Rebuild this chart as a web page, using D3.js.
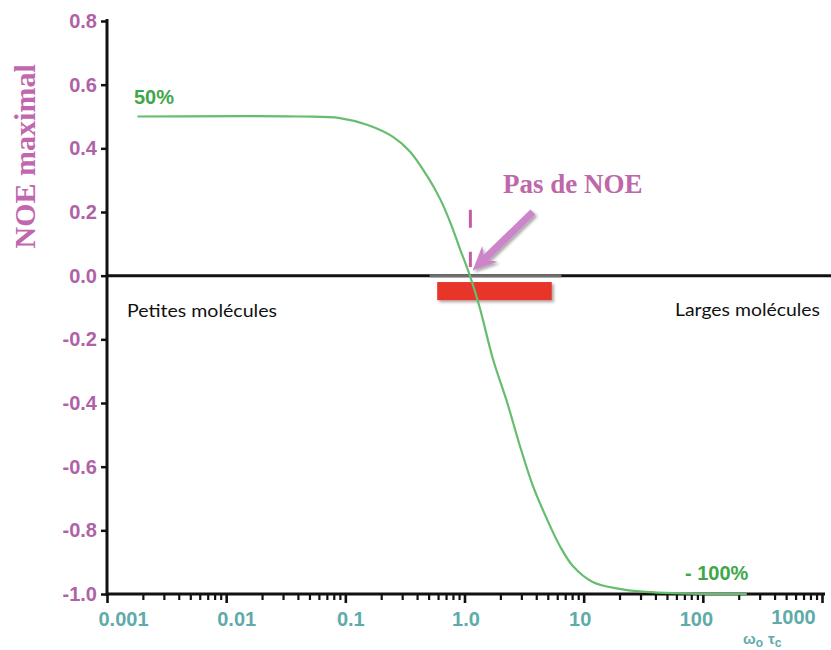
<!DOCTYPE html>
<html>
<head>
<meta charset="utf-8">
<script src="https://cdn.jsdelivr.net/npm/d3@7"></script>
<style>
  html, body { margin: 0; padding: 0; background: #ffffff; }
  svg { display: block; }
</style>
</head>
<body>
<div id="chart"></div>
<script>
// ---------- data ----------
const xTickValues = [0.001, 0.01, 0.1, 1, 10, 100, 1000];
const xTickLabels = ["0.001", "0.01", "0.1", "1.0", "10", "100", "1000"];
const yTickValues = [-1.0, -0.8, -0.6, -0.4, -0.2, 0.0, 0.2, 0.4, 0.6, 0.8];
const yTickLabels = ["-1.0", "-0.8", "-0.6", "-0.4", "-0.2", "0.0", "0.2", "0.4", "0.6", "0.8"];
// omega0 * tau_c values and maximal NOE
const curveX = [0.0018, 0.0416, 0.090, 0.152, 0.251, 0.348, 0.484, 0.622, 0.755, 0.914, 1.11, 1.35, 1.73, 2.27, 2.92, 3.75, 4.91, 6.31, 8.11, 11.9, 20.1, 29.6, 94, 234];
const curveY = [0.5, 0.5, 0.495, 0.474, 0.436, 0.390, 0.314, 0.242, 0.170, 0.085, 0.0, -0.104, -0.261, -0.396, -0.535, -0.660, -0.764, -0.849, -0.912, -0.962, -0.984, -0.992, -1.0, -1.0];
const plateauLabels = ["50%", "- 100%"];
const regionLabels = ["Petites molécules", "Larges molécules"];
const noNoeBand = [0.59, 5.4];     // omega0*tau_c range of the red band
const noNoePoint = 1.12;           // zero crossing
const yTitle = "NOE maximal";
const annotation = "Pas de NOE";

// ---------- layout ----------
const W = 831, H = 650;
const purple = "#b062a6", teal = "#5eabaa", green = "#3fa74a", curveGreen = "#66bd6d";

const svg = d3.select("#chart").append("svg").attr("width", W).attr("height", H);
const defs = svg.append("defs");
const f = defs.append("filter").attr("id", "shadow").attr("x", "-20%").attr("y", "-40%").attr("width", "150%").attr("height", "200%");
f.append("feDropShadow").attr("dx", 2).attr("dy", 2).attr("stdDeviation", 1.6).attr("flood-color", "#000").attr("flood-opacity", 0.35);

const x = d3.scaleLog().domain([0.001, 1000]).range([107, 822]);
const y = d3.scaleLinear().domain([-1, 0.8]).range([594, 21]);

// ---------- x axis ----------
const minorTicks = [];
for (let e = -3; e < 3; e++) for (let k = 2; k <= 9; k++) minorTicks.push(k * Math.pow(10, e));

const gx = svg.append("g").attr("transform", `translate(0,${y(-1)})`);
gx.call(d3.axisBottom(x).tickValues(minorTicks).tickSize(6).tickFormat("").tickSizeOuter(0));
gx.call(g => g.selectAll(".tick line").attr("stroke", "#111").attr("stroke-width", 2.2));
const gx2 = svg.append("g").attr("transform", `translate(0,${y(-1)})`);
gx2.call(d3.axisBottom(x).tickValues(xTickValues).tickSize(9).tickPadding(9)
  .tickFormat((d, i) => xTickLabels[i]).tickSizeOuter(0));
gx2.select(".domain").remove();
gx.select(".domain").attr("stroke", "#111").attr("stroke-width", 3).attr("d", `M${x(0.001) - 1},0H${x(1000) + 3}`);
gx2.selectAll(".tick line").attr("stroke", "#111").attr("stroke-width", 2.6);
const xdx = [16, 10, 5, 1, -4, -7, -29];
gx2.selectAll(".tick text")
  .attr("fill", teal).attr("font-family", "Liberation Sans, Arial, sans-serif")
  .attr("font-weight", "bold").attr("font-size", 20)
  .attr("dx", (d, i) => xdx[i])
  .attr("y", (d, i) => i === xTickValues.length - 1 ? 16 : 18);

// ---------- y axis ----------
const gy = svg.append("g").attr("transform", `translate(${x(0.001)},0)`);
gy.call(d3.axisLeft(y).tickValues(yTickValues).tickSize(6).tickPadding(4)
  .tickFormat((d, i) => yTickLabels[i]).tickSizeOuter(0));
gy.select(".domain").attr("stroke", "#111").attr("stroke-width", 3)
  .attr("d", `M0,${y(0.8) - 2}V${y(-1) + 2}`);
gy.selectAll(".tick line").attr("stroke", "#111").attr("stroke-width", 2.5);
gy.selectAll(".tick text")
  .attr("fill", purple).attr("font-family", "Liberation Sans, Arial, sans-serif")
  .attr("font-weight", "bold").attr("font-size", 20);

// y title
svg.append("text")
  .attr("transform", `translate(35,${(y(0.8) + y(0.0)) / 2 + 8}) rotate(-90)`)
  .attr("text-anchor", "middle")
  .attr("font-family", "Liberation Serif, Times New Roman, serif")
  .attr("font-weight", "bold").attr("font-size", 30)
  .attr("fill", "#c167ae").text(yTitle);

// ---------- zero line ----------
svg.append("line").attr("x1", x(0.001)).attr("x2", W).attr("y1", y(0)).attr("y2", y(0))
  .attr("stroke", "#111").attr("stroke-width", 3);
svg.append("line").attr("x1", x(0.51)).attr("x2", x(6.5)).attr("y1", y(0)).attr("y2", y(0))
  .attr("stroke", "#6e6e6e").attr("stroke-width", 3);

// red band
svg.append("rect")
  .attr("x", x(noNoeBand[0])).attr("width", x(noNoeBand[1]) - x(noNoeBand[0]))
  .attr("y", y(-0.02)).attr("height", y(-0.077) - y(-0.02))
  .attr("fill", "#e8352b").attr("filter", "url(#shadow)");

// ---------- curve ----------
const pts = curveX.map((v, i) => [v, curveY[i]]);
svg.append("path").datum(pts)
  .attr("fill", "none").attr("stroke", curveGreen).attr("stroke-width", 2.2)
  .attr("d", d3.line().x(d => x(d[0])).y(d => y(d[1])).curve(d3.curveCatmullRom.alpha(0.5)));

// dashed marker at the zero crossing
svg.append("line")
  .attr("x1", x(noNoePoint)).attr("x2", x(noNoePoint))
  .attr("y1", y(0.207)).attr("y2", y(0.027))
  .attr("stroke", "#c65aa8").attr("stroke-width", 3).attr("stroke-dasharray", "18,24");

// arrow
{
  const sx = x(3.75), sy = y(0.20), tx = x(1.17), ty = y(0.016);
  const dx = tx - sx, dy = ty - sy, L = Math.hypot(dx, dy);
  const ux = dx / L, uy = dy / L, px = -uy, py = ux;
  const headL = 24, headW = 11, shaftW = 3.6;
  const bx = tx - ux * headL, by = ty - uy * headL;
  const nx = tx - ux * (headL - 5), ny = ty - uy * (headL - 5);
  const pts2 = [
    [sx + px * shaftW, sy + py * shaftW],
    [nx + px * shaftW, ny + py * shaftW],
    [bx + px * headW, by + py * headW],
    [tx, ty],
    [bx - px * headW, by - py * headW],
    [nx - px * shaftW, ny - py * shaftW],
    [sx - px * shaftW, sy - py * shaftW]
  ];
  svg.append("path").attr("d", "M" + pts2.map(p => p.join(",")).join("L") + "Z")
    .attr("fill", "#cc85c8").attr("filter", "url(#shadow)");
}

svg.append("text").attr("x", 503).attr("y", 193)
  .attr("font-family", "Liberation Serif, Times New Roman, serif")
  .attr("font-weight", "bold").attr("font-size", 27).attr("fill", "#c067aa")
  .text(annotation);

// plateau labels
svg.append("text").attr("x", 134).attr("y", 104)
  .attr("font-family", "Liberation Sans, Arial, sans-serif").attr("font-weight", "bold")
  .attr("font-size", 20).attr("fill", green).text(plateauLabels[0]);
svg.append("text").attr("x", 685).attr("y", 580)
  .attr("font-family", "Liberation Sans, Arial, sans-serif").attr("font-weight", "bold")
  .attr("font-size", 20).attr("fill", green).text(plateauLabels[1]);

// region labels
svg.append("text").attr("x", 127).attr("y", 317)
  .attr("font-family", "Lato, Open Sans, sans-serif").attr("font-size", 18).attr("fill", "#111")
  .attr("textLength", 150).attr("lengthAdjust", "spacingAndGlyphs").text(regionLabels[0]);
svg.append("text").attr("x", 675).attr("y", 316)
  .attr("font-family", "Lato, Open Sans, sans-serif").attr("font-size", 18).attr("fill", "#111")
  .attr("textLength", 145).attr("lengthAdjust", "spacingAndGlyphs").text(regionLabels[1]);

// x axis title  ω0 τc
const xt = svg.append("text").attr("x", 743).attr("y", 644)
  .attr("font-family", "Liberation Sans, Arial, sans-serif").attr("font-weight", "bold")
  .attr("font-size", 15).attr("fill", teal);
xt.append("tspan").text("ω");
xt.append("tspan").attr("dy", 3).attr("font-size", 12).text("o");
xt.append("tspan").attr("dy", -3).attr("dx", 5).text("τ");
xt.append("tspan").attr("dy", 3).attr("font-size", 12).text("c");
</script>
</body>
</html>
